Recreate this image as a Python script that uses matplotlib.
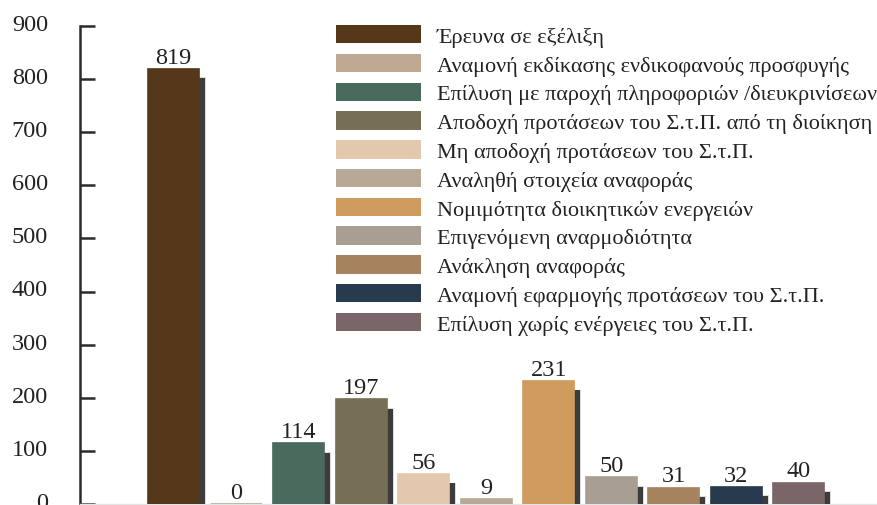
import matplotlib
matplotlib.use("Agg")
import matplotlib.pyplot as plt
import matplotlib.patheffects as pe
from matplotlib.patches import Patch
from matplotlib.transforms import ScaledTranslation

categories = [
    "Έρευνα σε εξέλιξη",
    "Αναμονή εκδίκασης ενδικοφανούς προσφυγής",
    "Επίλυση με παροχή πληροφοριών /διευκρινίσεων",
    "Αποδοχή προτάσεων του Σ.τ.Π. από τη διοίκηση",
    "Μη αποδοχή προτάσεων του Σ.τ.Π.",
    "Αναληθή στοιχεία αναφοράς",
    "Νομιμότητα διοικητικών ενεργειών",
    "Επιγενόμενη αναρμοδιότητα",
    "Ανάκληση αναφοράς",
    "Αναμονή εφαρμογής προτάσεων του Σ.τ.Π.",
    "Επίλυση χωρίς ενέργειες του Σ.τ.Π.",
]
values = [819, 0, 114, 197, 56, 9, 231, 50, 31, 32, 40]
colors = ["#553719", "#bfa993", "#4a6a5d", "#766f56", "#e3c8ad", "#b8a996",
          "#cf9b5f", "#a89f92", "#a6825e", "#283a4e", "#7a6569"]
yticks = [0, 100, 200, 300, 400, 500, 600, 700, 800, 900]

FONT = "Liberation Serif"
plt.rcParams["font.family"] = [FONT, "DejaVu Serif"]

W, H = 878, 506
fig = plt.figure(figsize=(W / 100, H / 100), dpi=100)
ax = fig.add_axes([80 / W, 1 / H, 1 - 80 / W, (505 - 27) / H])

x = list(range(len(values)))
shadow = [pe.SimplePatchShadow(offset=(5.2, -6.0), shadow_rgbFace="#dcdcdc", alpha=1.0),
          pe.SimplePatchShadow(offset=(4.4, -6.6), shadow_rgbFace="#3c3c3c", alpha=1.0),
          pe.Normal()]
bars = ax.bar(x, values, width=0.816, color=colors, edgecolor=colors, linewidth=1.2,
              zorder=3)
for b in bars:
    b.set_path_effects(shadow)

for xi, v in zip(x, values):
    ax.annotate(str(v), (xi, v), xytext=(0, 1), textcoords="offset points",
                ha="center", va="bottom", fontsize=17.5, color="#222222", zorder=4)

ax.set_xlim(-1.5, 11.27)
ax.set_ylim(0, 900)
ax.set_yticks(yticks)
ax.set_xticks([])
ax.tick_params(axis="y", direction="in", length=10.8, width=1.8, color="#2b2b2b",
               pad=23, labelsize=17.5, labelcolor="#222222")
off = ScaledTranslation(0, 3 / 72, fig.dpi_scale_trans)
for lab in ax.get_yticklabels():
    lab.set_transform(lab.get_transform() + off)

for s in ["top", "right"]:
    ax.spines[s].set_visible(False)
ax.spines["left"].set_color("#2b2b2b")
ax.spines["left"].set_linewidth(1.8)
ax.spines["bottom"].set_color("#e4e4e4")
ax.spines["bottom"].set_linewidth(1.0)

handles = [Patch(facecolor=c, edgecolor="none") for c in colors]
fs = 16
fspx = fs * 100 / 72
leg = fig.legend(handles, categories, loc="upper left",
                 bbox_to_anchor=(336 / W, 1 - 26 / H), bbox_transform=fig.transFigure,
                 frameon=False, fontsize=fs, borderpad=0, borderaxespad=0,
                 handlelength=85 / fspx, handleheight=20 / fspx,
                 handletextpad=16 / fspx, labelspacing=0.31)
for t in leg.get_texts():
    t.set_color("#222222")

fig.savefig("out.png", dpi=100)
